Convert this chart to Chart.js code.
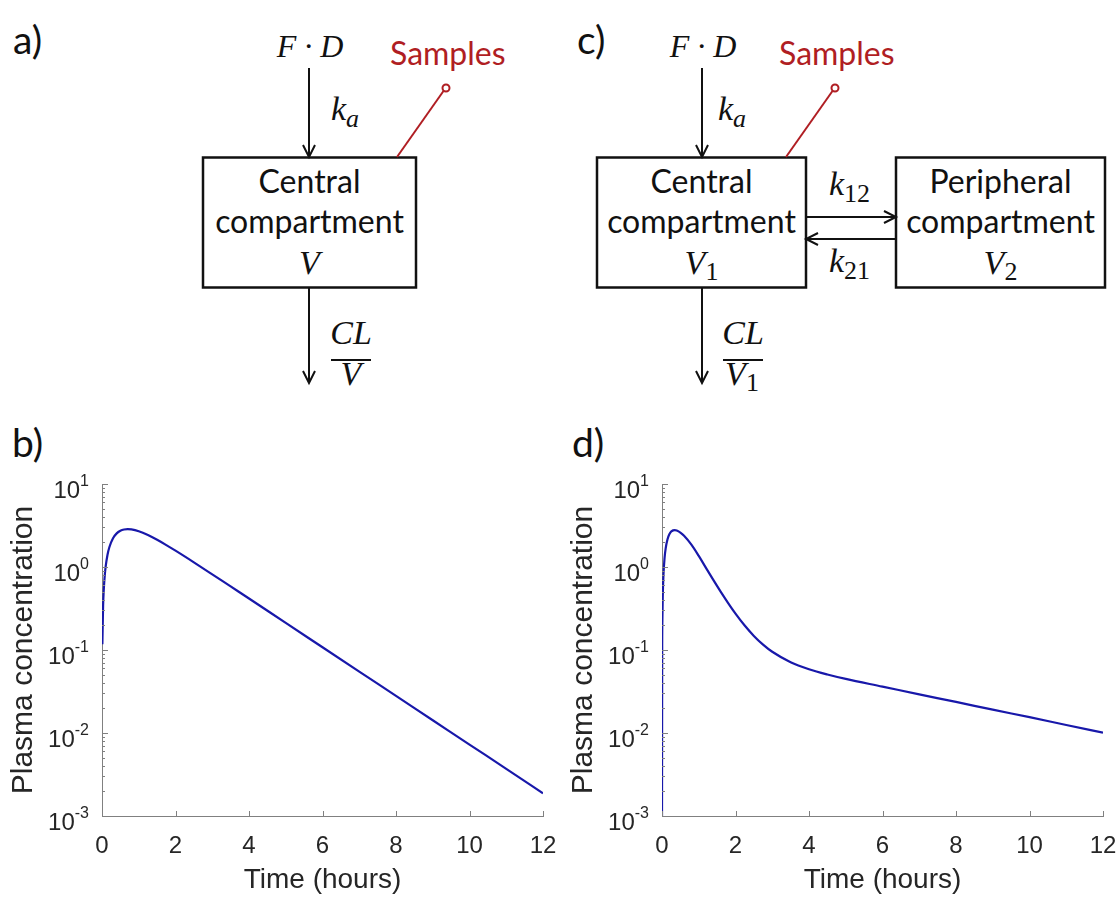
<!DOCTYPE html>
<html lang="en">
  <head>
    <meta charset="UTF-8" />
    <title>Pharmacokinetic compartment models</title>
    <style>
      body {
        margin: 0;
        background: #fff;
      }
      #page {
        position: relative;
        width: 1120px;
        height: 897px;
        overflow: hidden;
      }
      #page canvas,
      #page svg,
      .panel {
        position: absolute;
      }
      .panel {
        font-family: Lato, "Open Sans", sans-serif;
        font-size: 39px;
        color: #111;
        line-height: 1;
      }
      svg text {
        fill: #111;
      }
      .txt {
        font-family: Lato, "Open Sans", sans-serif;
        font-size: 32px;
      }
      .m {
        font-family: "Liberation Serif", "DejaVu Serif", serif;
        font-style: italic;
        font-size: 34px;
      }
      .fd {
        font-size: 32px;
      }
      .sub {
        font-size: 26px;
      }
      .up {
        font-style: normal;
      }
      .red {
        fill: #b01e23 !important;
      }
    </style>
  </head>
  <body>
    <div id="page">
      <svg width="1120" height="420" style="left: 0; top: 0">
        <g stroke="#111" stroke-width="2" fill="none">
          <!-- a) one compartment -->
          <line x1="309" y1="68" x2="309" y2="156" />
          <polyline points="303,145 309,157 315,145" />
          <rect x="203" y="157.5" width="213" height="130" stroke-width="2.5" />
          <line x1="309" y1="288" x2="309" y2="382" />
          <polyline points="303,371 309,383 315,371" />
          <line x1="331" y1="360" x2="371" y2="360" />
          <!-- c) two compartments -->
          <line x1="702" y1="68" x2="702" y2="156" />
          <polyline points="696,145 702,157 708,145" />
          <rect x="597" y="157.5" width="209" height="130" stroke-width="2.5" />
          <rect x="896" y="157.5" width="209" height="130" stroke-width="2.5" />
          <line x1="807" y1="217" x2="895" y2="217" />
          <polyline points="884,211 896,217 884,223" />
          <line x1="895" y1="239" x2="808" y2="239" />
          <polyline points="818,233 806,239 818,245" />
          <line x1="702" y1="288" x2="702" y2="382" />
          <polyline points="696,371 702,383 708,371" />
          <line x1="723" y1="360" x2="763" y2="360" />
        </g>
        <g stroke="#b01e23" stroke-width="2" fill="#fff">
          <line x1="397" y1="157" x2="443.5" y2="91" />
          <circle cx="446" cy="88" r="3.5" />
          <line x1="786" y1="157" x2="832.5" y2="91" />
          <circle cx="835" cy="88" r="3.5" />
        </g>

        <text class="m fd" x="310" y="57" text-anchor="middle">F · D</text>
        <text class="m" x="331" y="120">k<tspan class="sub" dy="7">a</tspan></text>
        <text class="txt" x="309.5" y="193" text-anchor="middle">Central</text>
        <text class="txt" x="309.5" y="233" text-anchor="middle">compartment</text>
        <text class="m" x="309.5" y="274" text-anchor="middle">V</text>
        <text class="m" x="351" y="344" text-anchor="middle">CL</text>
        <text class="m" x="351" y="385" text-anchor="middle">V</text>
        <text class="txt red" x="390" y="65">Samples</text>

        <text class="m fd" x="703" y="57" text-anchor="middle">F · D</text>
        <text class="m" x="718" y="120">k<tspan class="sub" dy="7">a</tspan></text>
        <text class="txt" x="701.5" y="193" text-anchor="middle">Central</text>
        <text class="txt" x="701.5" y="233" text-anchor="middle">compartment</text>
        <text class="m" x="701.5" y="274" text-anchor="middle">V<tspan class="sub up" dy="6">1</tspan></text>
        <text class="txt" x="1000.5" y="193" text-anchor="middle">Peripheral</text>
        <text class="txt" x="1000.5" y="233" text-anchor="middle">compartment</text>
        <text class="m" x="1000.5" y="274" text-anchor="middle">V<tspan class="sub up" dy="6">2</tspan></text>
        <text class="m" x="829" y="195">k<tspan class="sub up" dy="7">12</tspan></text>
        <text class="m" x="829" y="272">k<tspan class="sub up" dy="7">21</tspan></text>
        <text class="m" x="743" y="344" text-anchor="middle">CL</text>
        <text class="m" x="742" y="385" text-anchor="middle">V<tspan class="sub up" dy="6">1</tspan></text>
        <text class="txt red" x="779" y="65">Samples</text>
      </svg>

      <div class="panel" style="left: 13px; top: 20px">a)</div>
      <div class="panel" style="left: 577px; top: 20px">c)</div>
      <div class="panel" style="left: 12px; top: 423px">b)</div>
      <div class="panel" style="left: 572px; top: 423px">d)</div>

      <canvas id="chartB" width="560" height="437" style="left: 0; top: 460px"></canvas>
      <canvas id="chartD" width="560" height="437" style="left: 560px; top: 460px"></canvas>
    </div>

    <script src="https://cdn.jsdelivr.net/npm/chart.js"></script>
    <script>
      // b) one-compartment model, oral dose (values read off the picture)
      const timeB = [0.01, 0.03, 0.05, 0.075, 0.1, 0.15, 0.2, 0.3, 0.4, 0.5, 0.6, 0.7, 0.8, 1.0, 1.25, 1.5, 1.75, 2, 2.5, 3, 3.5, 4, 5, 6, 7, 8, 9, 10, 11, 12];
      const concB = [0.117, 0.341, 0.55, 0.792, 1.015, 1.405, 1.731, 2.221, 2.542, 2.734, 2.832, 2.861, 2.838, 2.696, 2.426, 2.127, 1.837, 1.573, 1.138, 0.816, 0.583, 0.417, 0.212, 0.108, 0.055, 0.028, 0.01426, 0.00726, 0.0037, 0.00188];

      // d) two-compartment model, oral dose
      const timeD = [0, 0.005, 0.01, 0.02, 0.04, 0.07, 0.1, 0.15, 0.2, 0.25, 0.3, 0.35, 0.4, 0.5, 0.6, 0.8, 1.0, 1.2, 1.4, 1.6, 1.8, 2.0, 2.25, 2.5, 2.75, 3.0, 3.5, 4, 4.5, 5, 6, 7, 8, 9, 10, 11, 12];
      const concD = [0.001, 0.1125, 0.2216, 0.4295, 0.808, 1.289, 1.679, 2.164, 2.481, 2.67, 2.763, 2.783, 2.75, 2.6, 2.38, 1.86, 1.36, 0.97, 0.695, 0.502, 0.368, 0.2746, 0.1972, 0.1479, 0.1161, 0.0952, 0.0713, 0.0587, 0.0507, 0.0448, 0.0362, 0.0292, 0.0237, 0.0191, 0.0155, 0.0125, 0.0101];

      // axis ticks
      const decades = [-3, -2, -1, 0, 1];
      const timeTicks = [0, 2, 4, 6, 8, 10, 12];

      const axisColor = "#808080";
      const labelColor = "#262626";
      const lineColor = "#1818aa";
      const sansFont = '"Liberation Sans", Arial, sans-serif';

      // MATLAB style: inward ticks and 10^n labels
      const matlabAxes = {
        id: "matlabAxes",
        afterDraw(chart) {
          const ctx = chart.ctx;
          const area = chart.chartArea;
          const ys = chart.scales.y;
          const xs = chart.scales.x;
          ctx.save();
          ctx.strokeStyle = axisColor;
          ctx.lineWidth = 1;
          ctx.beginPath();
          decades.forEach((e, i) => {
            const py = Math.round(ys.getPixelForValue(Math.pow(10, e))) + 0.5;
            ctx.moveTo(area.left, py);
            ctx.lineTo(area.left + 6, py);
            if (i < decades.length - 1) {
              for (let m = 2; m <= 9; m++) {
                const pm = Math.round(ys.getPixelForValue(m * Math.pow(10, e))) + 0.5;
                ctx.moveTo(area.left, pm);
                ctx.lineTo(area.left + 3, pm);
              }
            }
          });
          timeTicks.forEach((t) => {
            const px = Math.round(xs.getPixelForValue(t)) + 0.5;
            ctx.moveTo(px, area.bottom);
            ctx.lineTo(px, area.bottom - 5);
          });
          ctx.stroke();

          ctx.fillStyle = labelColor;
          ctx.textBaseline = "alphabetic";
          const right = area.left - 13;
          decades.forEach((e) => {
            const py = ys.getPixelForValue(Math.pow(10, e));
            const exp = String(e);
            ctx.font = "16px " + sansFont;
            const w = ctx.measureText(exp).width;
            ctx.textAlign = "left";
            ctx.fillText(exp, right - w, py + 2);
            ctx.font = "24px " + sansFont;
            ctx.textAlign = "right";
            ctx.fillText("10", right - w, py + 14);
          });
          ctx.restore();
        },
      };

      function makeChart(id, times, values) {
        const points = times.map((t, i) => ({ x: t, y: values[i] }));
        return new Chart(document.getElementById(id), {
          type: "line",
          data: {
            datasets: [
              {
                data: points,
                borderColor: lineColor,
                borderWidth: 2.2,
                pointRadius: 0,
                cubicInterpolationMode: "monotone",
                fill: false,
              },
            ],
          },
          options: {
            responsive: false,
            animation: false,
            devicePixelRatio: 1,
            layout: { padding: { top: 24, right: 17, left: 0, bottom: 0 } },
            plugins: { legend: { display: false }, tooltip: { enabled: false } },
            scales: {
              x: {
                type: "linear",
                min: 0,
                max: 12,
                grid: { display: false, drawTicks: false },
                border: { display: true, color: axisColor, width: 1 },
                ticks: {
                  stepSize: 2,
                  padding: 16,
                  color: labelColor,
                  font: { size: 24, family: sansFont },
                  maxRotation: 0,
                },
                title: {
                  display: true,
                  text: "Time (hours)",
                  color: labelColor,
                  font: { size: 28, family: sansFont },
                  padding: { top: 0, bottom: 0 },
                },
                afterFit(scale) {
                  scale.height = 81;
                  scale.paddingLeft = 0;
                  scale.paddingRight = 0;
                },
              },
              y: {
                type: "logarithmic",
                min: 0.001,
                max: 10,
                grid: { display: false, drawTicks: false },
                border: { display: true, color: axisColor, width: 1 },
                ticks: { display: false },
                title: {
                  display: true,
                  text: "Plasma concentration",
                  color: labelColor,
                  font: { size: 30, family: sansFont },
                  padding: { top: 6, bottom: 0 },
                },
                afterFit(scale) {
                  scale.width = 102;
                  scale.paddingTop = 0;
                  scale.paddingBottom = 0;
                },
              },
            },
          },
          plugins: [matlabAxes],
        });
      }

      makeChart("chartB", timeB, concB);
      makeChart("chartD", timeD, concD);
    </script>
  </body>
</html>
